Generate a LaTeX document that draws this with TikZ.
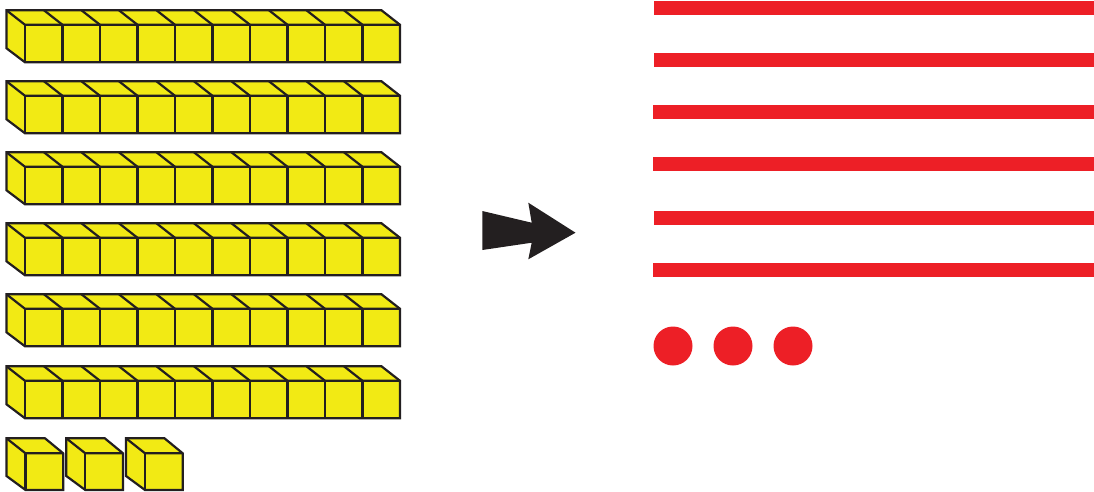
\documentclass[tikz,border=0pt]{standalone}
\definecolor{cubeyellow}{HTML}{F2EA14}
\definecolor{edgeblack}{HTML}{231F20}
\definecolor{barred}{HTML}{ED1F26}
\tikzset{
  cubeline/.style={draw=edgeblack,line width=2.2pt,line join=miter,fill=cubeyellow},
  innerline/.style={draw=edgeblack,line width=2.2pt},
  barline/.style={fill=barred,draw=none},
  dotmark/.style={fill=barred,draw=none}
}
\begin{document}
\begin{tikzpicture}[x=1pt,y=-1pt]
\useasboundingbox (0,0) rectangle (1094,491);
% long rods
\foreach \t in {10.3,81.3,152.3,223.3,294.3,366.3}{
  \draw[cubeline] (6.5,\t) -- (381.5,\t) -- (400,\t+14.5) -- (400,\t+52) -- (25,\t+52) -- (6.5,\t+38) -- cycle;
  \draw[innerline] (6.5,\t) -- (25,\t+14.5) -- (400,\t+14.5);
  \draw[innerline] (25,\t+14.5) -- (25,\t+52);
  \foreach \i in {1,...,9}{
    \draw[innerline] (25+\i*37.5,\t+14.5) -- (25+\i*37.5,\t+52);
    \draw[innerline] (25+\i*37.5,\t+14.5) -- (6.5+\i*37.5,\t);
  }
}
% single cubes
\foreach \x in {6.5,66.3,126}{
  \draw[cubeline] (\x,438.3) -- (\x+38.5,438.3) -- (\x+56.7,453.3) -- (\x+56.7,490) -- (\x+19,490) -- (\x,476) -- cycle;
  \draw[innerline] (\x,438.3) -- (\x+19,453.3) -- (\x+56.7,453.3);
  \draw[innerline] (\x+19,453.3) -- (\x+19,490);
}
% arrow
\fill[edgeblack] (482.3,211) -- (531.7,222.7) -- (528.3,202.7) -- (575.5,232.7) -- (528.3,259.3) -- (531.7,242.7) -- (482.3,250) -- cycle;
% bars
\foreach \y/\xs in {1/654,53/654,105/653,157/653,211/653.5,263/653}{
  \fill[barline] (\xs,\y) rectangle (1094,\y+14.2);
}
% dots
\foreach \x in {673,733,793}{
  \fill[dotmark] (\x,346) circle[radius=19.5];
}
\end{tikzpicture}
\end{document}
